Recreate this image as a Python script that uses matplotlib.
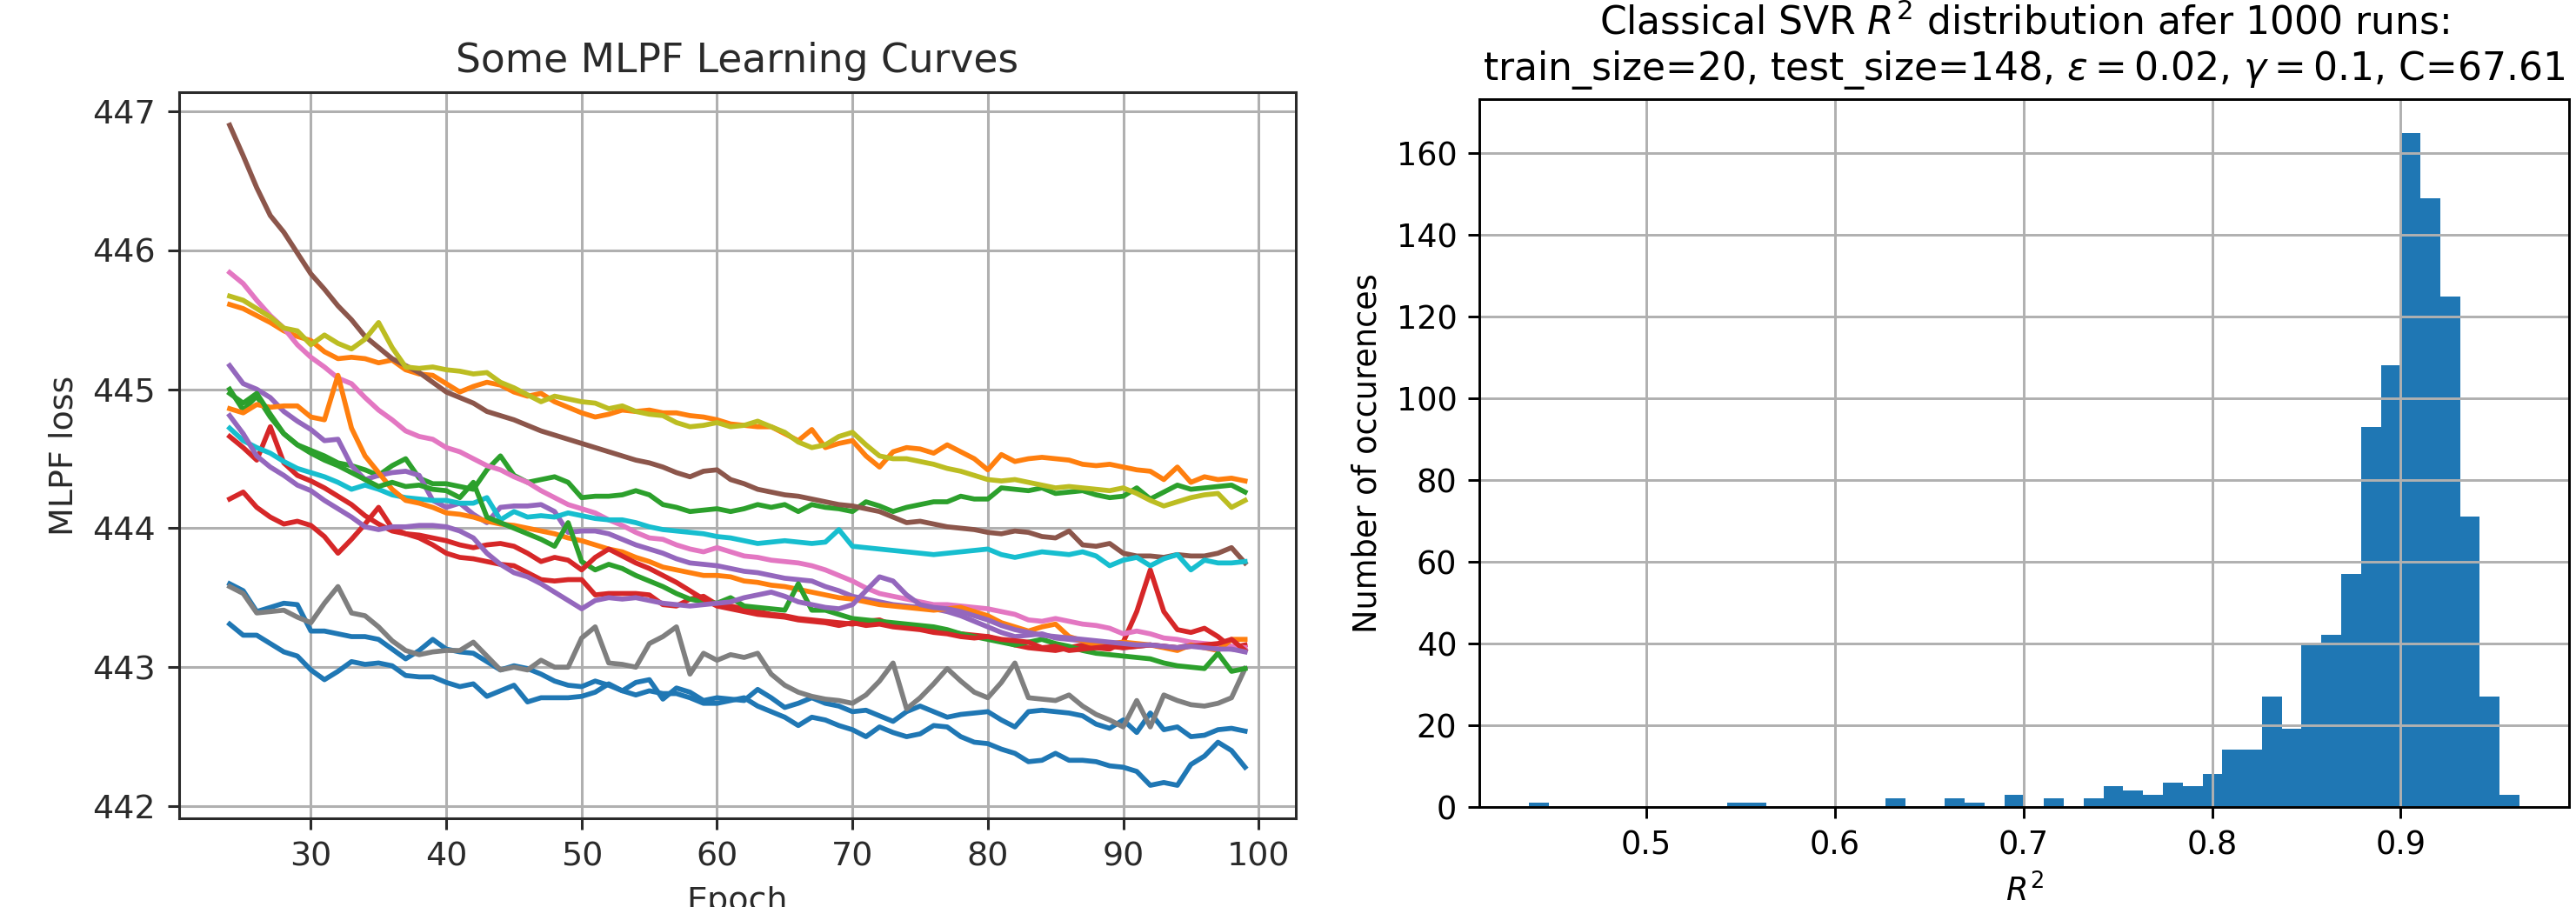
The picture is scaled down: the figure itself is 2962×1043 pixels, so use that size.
import numpy as np
import matplotlib
matplotlib.use("Agg")
import matplotlib.pyplot as plt

# ---------------- Left panel data: MLPF learning curves ----------------
epochs = list(range(24, 100))

blue_a = [443.60, 443.55, 443.40, 443.43, 443.46, 443.45, 443.26, 443.26, 443.24, 443.22,
          443.22, 443.20, 443.13, 443.06, 443.12, 443.20, 443.13, 443.11, 443.10, 443.04,
          442.98, 443.01, 442.99, 442.95, 442.90, 442.87, 442.86, 442.90, 442.87, 442.83,
          442.89, 442.91, 442.77, 442.85, 442.82, 442.76, 442.78, 442.77, 442.76, 442.84,
          442.78, 442.71, 442.74, 442.78, 442.74, 442.72, 442.68, 442.69, 442.65, 442.61,
          442.68, 442.72, 442.68, 442.64, 442.66, 442.67, 442.68, 442.62, 442.57, 442.68,
          442.69, 442.68, 442.67, 442.65, 442.59, 442.56, 442.62, 442.53, 442.67, 442.55,
          442.57, 442.50, 442.51, 442.55, 442.56, 442.54]
orange_a = [445.61, 445.58, 445.53, 445.48, 445.42, 445.38, 445.35, 445.27, 445.22, 445.23,
            445.22, 445.19, 445.21, 445.14, 445.11, 445.10, 445.04, 444.98, 445.02, 445.05,
            445.03, 444.98, 444.95, 444.97, 444.91, 444.87, 444.83, 444.80, 444.82, 444.85,
            444.84, 444.85, 444.83, 444.83, 444.81, 444.80, 444.78, 444.75, 444.74, 444.73,
            444.73, 444.68, 444.63, 444.71, 444.58, 444.61, 444.63, 444.52, 444.44, 444.55,
            444.58, 444.57, 444.54, 444.60, 444.55, 444.50, 444.42, 444.53, 444.48, 444.50,
            444.51, 444.50, 444.49, 444.46, 444.45, 444.46, 444.44, 444.42, 444.41, 444.35,
            444.44, 444.33, 444.37, 444.35, 444.36, 444.34]
green_a = [445.00, 444.85, 444.95, 444.80, 444.68, 444.60, 444.56, 444.52, 444.47, 444.45,
           444.42, 444.38, 444.45, 444.50, 444.36, 444.32, 444.32, 444.30, 444.28, 444.42,
           444.52, 444.38, 444.33, 444.35, 444.37, 444.33, 444.22, 444.23, 444.23, 444.24,
           444.27, 444.24, 444.17, 444.15, 444.12, 444.13, 444.14, 444.12, 444.14, 444.17,
           444.15, 444.17, 444.12, 444.17, 444.15, 444.14, 444.12, 444.19, 444.16, 444.12,
           444.15, 444.17, 444.19, 444.19, 444.23, 444.21, 444.21, 444.29, 444.28, 444.27,
           444.29, 444.25, 444.26, 444.27, 444.24, 444.22, 444.23, 444.29, 444.21, 444.26,
           444.31, 444.28, 444.29, 444.30, 444.31, 444.26]
red_a = [444.66, 444.58, 444.49, 444.73, 444.47, 444.38, 444.34, 444.29, 444.23, 444.17,
         444.09, 444.03, 443.98, 443.96, 443.93, 443.88, 443.82, 443.79, 443.78, 443.76,
         443.74, 443.73, 443.68, 443.63, 443.62, 443.63, 443.63, 443.52, 443.53, 443.53,
         443.53, 443.52, 443.45, 443.44, 443.49, 443.51, 443.45, 443.44, 443.42, 443.40,
         443.38, 443.37, 443.35, 443.34, 443.33, 443.32, 443.31, 443.33, 443.34, 443.30,
         443.29, 443.28, 443.27, 443.26, 443.24, 443.23, 443.22, 443.19, 443.16, 443.14,
         443.13, 443.12, 443.14, 443.16, 443.14, 443.13, 443.18, 443.40, 443.70, 443.40,
         443.27, 443.25, 443.28, 443.22, 443.14, 443.16]
purple_a = [445.17, 445.04, 445.00, 444.94, 444.84, 444.77, 444.71, 444.63, 444.64, 444.45,
            444.35, 444.38, 444.40, 444.41, 444.38, 444.20, 444.15, 444.18, 444.10, 444.04,
            444.15, 444.16, 444.16, 444.17, 444.12, 443.97, 443.98, 443.98, 443.96, 443.92,
            443.88, 443.85, 443.82, 443.78, 443.75, 443.74, 443.73, 443.71, 443.69, 443.68,
            443.66, 443.64, 443.63, 443.62, 443.58, 443.55, 443.51, 443.49, 443.47, 443.45,
            443.44, 443.43, 443.42, 443.40, 443.37, 443.33, 443.29, 443.25, 443.22, 443.23,
            443.24, 443.21, 443.20, 443.19, 443.18, 443.16, 443.14, 443.15, 443.16, 443.15,
            443.14, 443.16, 443.15, 443.14, 443.13, 443.12]
brown = [446.90, 446.68, 446.45, 446.25, 446.13, 445.98, 445.83, 445.72, 445.60, 445.50,
         445.38, 445.30, 445.22, 445.17, 445.12, 445.05, 444.98, 444.94, 444.90, 444.84,
         444.81, 444.78, 444.74, 444.70, 444.67, 444.64, 444.61, 444.58, 444.55, 444.52,
         444.49, 444.47, 444.44, 444.40, 444.37, 444.41, 444.42, 444.35, 444.32, 444.28,
         444.26, 444.24, 444.23, 444.21, 444.19, 444.17, 444.16, 444.14, 444.12, 444.08,
         444.04, 444.05, 444.03, 444.01, 444.00, 443.99, 443.97, 443.96, 443.98, 443.97,
         443.94, 443.93, 443.98, 443.88, 443.87, 443.89, 443.82, 443.80, 443.80, 443.79,
         443.81, 443.80, 443.80, 443.82, 443.86, 443.75]
pink = [445.84, 445.76, 445.64, 445.53, 445.44, 445.32, 445.23, 445.16, 445.08, 445.04,
        444.94, 444.85, 444.78, 444.70, 444.66, 444.64, 444.58, 444.55, 444.50, 444.45,
        444.42, 444.37, 444.33, 444.27, 444.22, 444.17, 444.14, 444.11, 444.06, 444.02,
        443.97, 443.93, 443.92, 443.88, 443.85, 443.83, 443.86, 443.83, 443.80, 443.79,
        443.77, 443.76, 443.75, 443.73, 443.70, 443.66, 443.62, 443.57, 443.53, 443.51,
        443.49, 443.47, 443.45, 443.45, 443.44, 443.43, 443.42, 443.40, 443.38, 443.34,
        443.33, 443.35, 443.33, 443.31, 443.30, 443.28, 443.24, 443.26, 443.24, 443.21,
        443.20, 443.18, 443.17, 443.16, 443.15, 443.14]
gray = [443.58, 443.53, 443.39, 443.40, 443.41, 443.36, 443.32, 443.46, 443.58, 443.39,
        443.37, 443.29, 443.19, 443.12, 443.09, 443.11, 443.12, 443.12, 443.18, 443.08,
        442.98, 443.00, 442.98, 443.05, 443.00, 443.00, 443.21, 443.29, 443.03, 443.02,
        443.00, 443.17, 443.22, 443.29, 442.95, 443.10, 443.05, 443.09, 443.07, 443.10,
        442.95, 442.87, 442.82, 442.79, 442.77, 442.76, 442.74, 442.80, 442.90, 443.03,
        442.70, 442.78, 442.88, 442.99, 442.90, 442.82, 442.78, 442.89, 443.03, 442.78,
        442.77, 442.76, 442.80, 442.72, 442.66, 442.62, 442.57, 442.76, 442.57, 442.80,
        442.76, 442.73, 442.72, 442.74, 442.78, 442.99]
olive = [445.67, 445.64, 445.58, 445.52, 445.44, 445.42, 445.32, 445.39, 445.33, 445.29,
         445.36, 445.48, 445.30, 445.16, 445.15, 445.16, 445.14, 445.13, 445.11, 445.12,
         445.05, 445.01, 444.96, 444.91, 444.95, 444.93, 444.91, 444.90, 444.86, 444.88,
         444.84, 444.82, 444.81, 444.76, 444.73, 444.74, 444.76, 444.73, 444.74, 444.77,
         444.73, 444.69, 444.62, 444.58, 444.60, 444.66, 444.69, 444.60, 444.52, 444.50,
         444.50, 444.48, 444.46, 444.43, 444.41, 444.38, 444.35, 444.34, 444.35, 444.33,
         444.31, 444.29, 444.30, 444.29, 444.28, 444.27, 444.29, 444.25, 444.20, 444.16,
         444.19, 444.22, 444.24, 444.25, 444.15, 444.20]
cyan = [444.72, 444.63, 444.58, 444.54, 444.48, 444.43, 444.40, 444.37, 444.33, 444.28,
        444.31, 444.28, 444.24, 444.22, 444.21, 444.20, 444.20, 444.18, 444.18, 444.22,
        444.06, 444.12, 444.08, 444.09, 444.08, 444.11, 444.09, 444.07, 444.06, 444.06,
        444.04, 444.01, 443.99, 443.98, 443.97, 443.96, 443.94, 443.93, 443.91, 443.89,
        443.90, 443.91, 443.90, 443.89, 443.90, 443.99, 443.87, 443.86, 443.85, 443.84,
        443.83, 443.82, 443.81, 443.82, 443.83, 443.84, 443.85, 443.81, 443.79, 443.81,
        443.83, 443.82, 443.81, 443.83, 443.80, 443.73, 443.77, 443.79, 443.73, 443.78,
        443.81, 443.70, 443.77, 443.75, 443.75, 443.76]
blue_b = [443.31, 443.23, 443.23, 443.17, 443.11, 443.08, 442.98, 442.91, 442.97, 443.04,
          443.02, 443.03, 443.01, 442.94, 442.93, 442.93, 442.89, 442.86, 442.88, 442.79,
          442.83, 442.87, 442.75, 442.78, 442.78, 442.78, 442.79, 442.82, 442.88, 442.83,
          442.80, 442.83, 442.81, 442.81, 442.78, 442.74, 442.74, 442.76, 442.78, 442.72,
          442.68, 442.64, 442.58, 442.64, 442.62, 442.58, 442.55, 442.50, 442.57, 442.53,
          442.50, 442.52, 442.58, 442.57, 442.50, 442.46, 442.45, 442.41, 442.38, 442.32,
          442.33, 442.38, 442.33, 442.33, 442.32, 442.29, 442.28, 442.25, 442.15, 442.17,
          442.15, 442.30, 442.36, 442.46, 442.40, 442.28]
orange_b = [444.86, 444.83, 444.89, 444.87, 444.88, 444.88, 444.80, 444.78, 445.10, 444.72,
            444.52, 444.40, 444.28, 444.20, 444.18, 444.15, 444.11, 444.10, 444.08, 444.05,
            444.03, 444.02, 444.00, 443.98, 443.96, 443.93, 443.91, 443.88, 443.85, 443.83,
            443.79, 443.76, 443.72, 443.70, 443.68, 443.66, 443.66, 443.65, 443.62, 443.61,
            443.59, 443.58, 443.56, 443.54, 443.52, 443.50, 443.49, 443.47, 443.45, 443.44,
            443.43, 443.42, 443.41, 443.42, 443.43, 443.40, 443.37, 443.32, 443.29, 443.26,
            443.29, 443.31, 443.22, 443.19, 443.16, 443.17, 443.18, 443.17, 443.16, 443.14,
            443.12, 443.16, 443.14, 443.12, 443.20, 443.20]
green_b = [444.97, 444.90, 444.97, 444.82, 444.68, 444.60, 444.54, 444.49, 444.45, 444.40,
           444.35, 444.30, 444.33, 444.30, 444.31, 444.28, 444.27, 444.22, 444.33, 444.08,
           444.04, 444.00, 443.96, 443.92, 443.87, 444.04, 443.76, 443.70, 443.74, 443.71,
           443.66, 443.62, 443.58, 443.53, 443.49, 443.47, 443.46, 443.50, 443.44, 443.43,
           443.42, 443.41, 443.60, 443.41, 443.41, 443.38, 443.35, 443.34, 443.33, 443.32,
           443.31, 443.30, 443.29, 443.27, 443.24, 443.22, 443.20, 443.18, 443.16, 443.18,
           443.20, 443.17, 443.15, 443.12, 443.10, 443.09, 443.08, 443.07, 443.06, 443.03,
           443.01, 443.00, 442.99, 443.10, 442.97, 442.99]
red_b = [444.21, 444.26, 444.15, 444.08, 444.03, 444.05, 444.02, 443.94, 443.82, 443.92,
         444.03, 444.15, 444.00, 443.96, 443.95, 443.93, 443.91, 443.88, 443.86, 443.88,
         443.89, 443.87, 443.82, 443.76, 443.79, 443.77, 443.70, 443.79, 443.85, 443.80,
         443.75, 443.71, 443.66, 443.61, 443.55, 443.49, 443.44, 443.42, 443.40, 443.38,
         443.37, 443.36, 443.34, 443.33, 443.32, 443.30, 443.32, 443.30, 443.31, 443.29,
         443.28, 443.27, 443.25, 443.24, 443.22, 443.21, 443.22, 443.20, 443.19, 443.18,
         443.14, 443.15, 443.12, 443.13, 443.14, 443.15, 443.14, 443.15, 443.16, 443.15,
         443.14, 443.15, 443.16, 443.17, 443.20, 443.12]
purple_b = [444.81, 444.68, 444.52, 444.44, 444.38, 444.31, 444.27, 444.20, 444.14, 444.08,
            444.01, 443.99, 444.01, 444.01, 444.02, 444.02, 444.01, 443.98, 443.93, 443.82,
            443.74, 443.68, 443.65, 443.60, 443.54, 443.48, 443.42, 443.48, 443.50, 443.49,
            443.50, 443.48, 443.46, 443.45, 443.44, 443.45, 443.46, 443.47, 443.50, 443.52,
            443.54, 443.51, 443.47, 443.45, 443.43, 443.42, 443.45, 443.55, 443.65, 443.62,
            443.52, 443.45, 443.43, 443.42, 443.40, 443.37, 443.34, 443.30, 443.27, 443.25,
            443.23, 443.22, 443.21, 443.20, 443.19, 443.18, 443.17, 443.16, 443.16, 443.15,
            443.14, 443.15, 443.14, 443.13, 443.13, 443.11]

curves = [blue_a, orange_a, green_a, red_a, purple_a, brown, pink, gray, olive, cyan,
          blue_b, orange_b, green_b, red_b, purple_b]

# ---------------- Right panel data: SVR R^2 histogram ----------------
r2_min = 0.4376
r2_max = 0.9630
r2_counts = [1, 0, 0, 0, 0, 0, 0, 0, 0, 0,
             1, 1, 0, 0, 0, 0, 0, 0, 2, 0,
             0, 2, 1, 0, 3, 0, 2, 0, 2, 5,
             4, 3, 6, 5, 8, 14, 14, 27, 19, 40,
             42, 57, 93, 108, 165, 149, 125, 71, 27, 3]

# ---------------- Figure ----------------
DPI = 264
fig = plt.figure(figsize=(2962 / DPI, 1043 / DPI), dpi=DPI)
plt.rcParams['font.family'] = ['DejaVu Sans']

# Left panel (screenshot-like rendering, slightly larger scale)
s = 274 / 264
txt = '#2a2a2a'
axL = fig.add_axes([205.7 / 2962, 1 - 941 / 1043, (1490 - 205.7) / 2962, (941 - 106) / 1043])
for c in curves:
    axL.plot(epochs, c, lw=1.5 * s)
axL.grid(True, color='#b0b0b0', lw=0.8 * s)
axL.set_title('Some MLPF Learning Curves', fontsize=12 * s, color=txt, pad=6 * s)
axL.set_xlabel('Epoch', fontsize=10 * s, color=txt, labelpad=4 * s)
axL.set_ylabel('MLPF loss', fontsize=10 * s, color=txt, labelpad=4 * s)
axL.set_xticks([30, 40, 50, 60, 70, 80, 90, 100])
axL.set_yticks([442, 443, 444, 445, 446, 447])
axL.tick_params(labelsize=10 * s, colors=txt, length=3.5 * s, width=0.8 * s, pad=3.5 * s)
for sp in axL.spines.values():
    sp.set_color(txt)
    sp.set_linewidth(0.8 * s)

# Right panel: histogram
axR = fig.add_axes([1701 / 2962, 1 - 927.7 / 1043, 1253 / 2962, 813.7 / 1043])
edges = np.linspace(r2_min, r2_max, len(r2_counts) + 1)
axR.hist(edges[:-1], bins=edges, weights=r2_counts, color='#1f77b4')
axR.grid(True)
axR.set_title('Classical SVR $R^2$ distribution afer 1000 runs:\n'
              'train_size=20, test_size=148, $\\varepsilon=0.02$, $\\gamma=0.1$, C=67.61',
              fontsize=12)
axR.set_xlabel('$R^2$')
axR.set_ylabel('Number of occurences')

fig.savefig('out.png', dpi=DPI)
